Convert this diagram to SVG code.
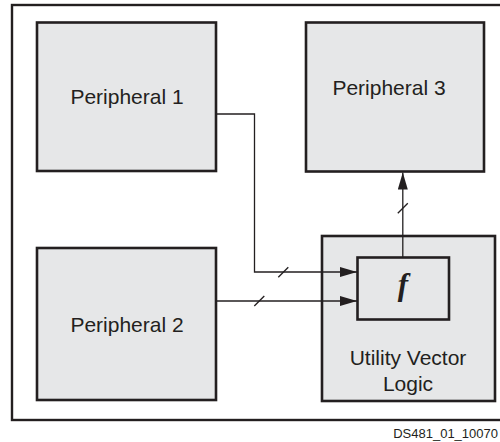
<svg xmlns="http://www.w3.org/2000/svg" width="500" height="442" viewBox="0 0 500 442">
<style>
.box{fill:#e6e7e8;stroke:#231f20;stroke-width:2.6}
.frame{fill:#fff;stroke:#231f20;stroke-width:2.4}
.lbl{font-family:"Liberation Sans",Arial,sans-serif;font-size:21px;fill:#231f20;text-anchor:middle}
.wire{fill:none;stroke:#231f20;stroke-width:1.3}
.slash{stroke:#231f20;stroke-width:1.3}
</style>
<defs>
<marker id="arr" markerUnits="userSpaceOnUse" markerWidth="18" markerHeight="12" refX="17" refY="5" orient="auto">
<path d="M0,0 L17,5 L0,10 Z" fill="#231f20"/>
</marker>
</defs>
<rect class="frame" x="12" y="5" width="492" height="415"/>
<g id="peripheral1">
<rect class="box" x="37" y="22.5" width="179" height="148.5"/>
<text class="lbl" x="127" y="104">Peripheral 1</text>
</g>
<g id="peripheral3">
<rect class="box" x="306" y="22.5" width="178" height="149"/>
<text class="lbl" x="389" y="95">Peripheral 3</text>
</g>
<g id="peripheral2">
<rect class="box" x="37" y="248" width="179" height="152"/>
<text class="lbl" x="127" y="331.5">Peripheral 2</text>
</g>
<g id="uvl">
<rect class="box" x="322" y="236" width="173" height="165"/>
<text class="lbl" x="408" y="365">Utility Vector</text>
<text class="lbl" x="408" y="391">Logic</text>
</g>
<g id="f">
<rect class="box" x="357.5" y="257.5" width="91.5" height="62"/>
<text x="403" y="295" font-family="'Liberation Serif','Times New Roman',serif" font-style="italic" font-weight="bold" font-size="31" fill="#231f20" text-anchor="middle">f</text>
</g>
<g id="connectors">
<path class="wire" d="M216,114 H254.5 V272 H357" marker-end="url(#arr)"/>
<path class="wire" d="M216,301 H357" marker-end="url(#arr)"/>
<path class="wire" d="M402.8,257.5 V172.5" marker-end="url(#arr)"/>
<line class="slash" x1="278.3" y1="277.3" x2="288.3" y2="267.3"/>
<line class="slash" x1="254.3" y1="306" x2="264.3" y2="296"/>
<line class="slash" x1="397.8" y1="213.3" x2="407.8" y2="203.3"/>
</g>
<text x="498" y="437.5" font-family="'Liberation Sans',Arial,sans-serif" font-size="13" fill="#231f20" text-anchor="end">DS481_01_10070</text>
</svg>
